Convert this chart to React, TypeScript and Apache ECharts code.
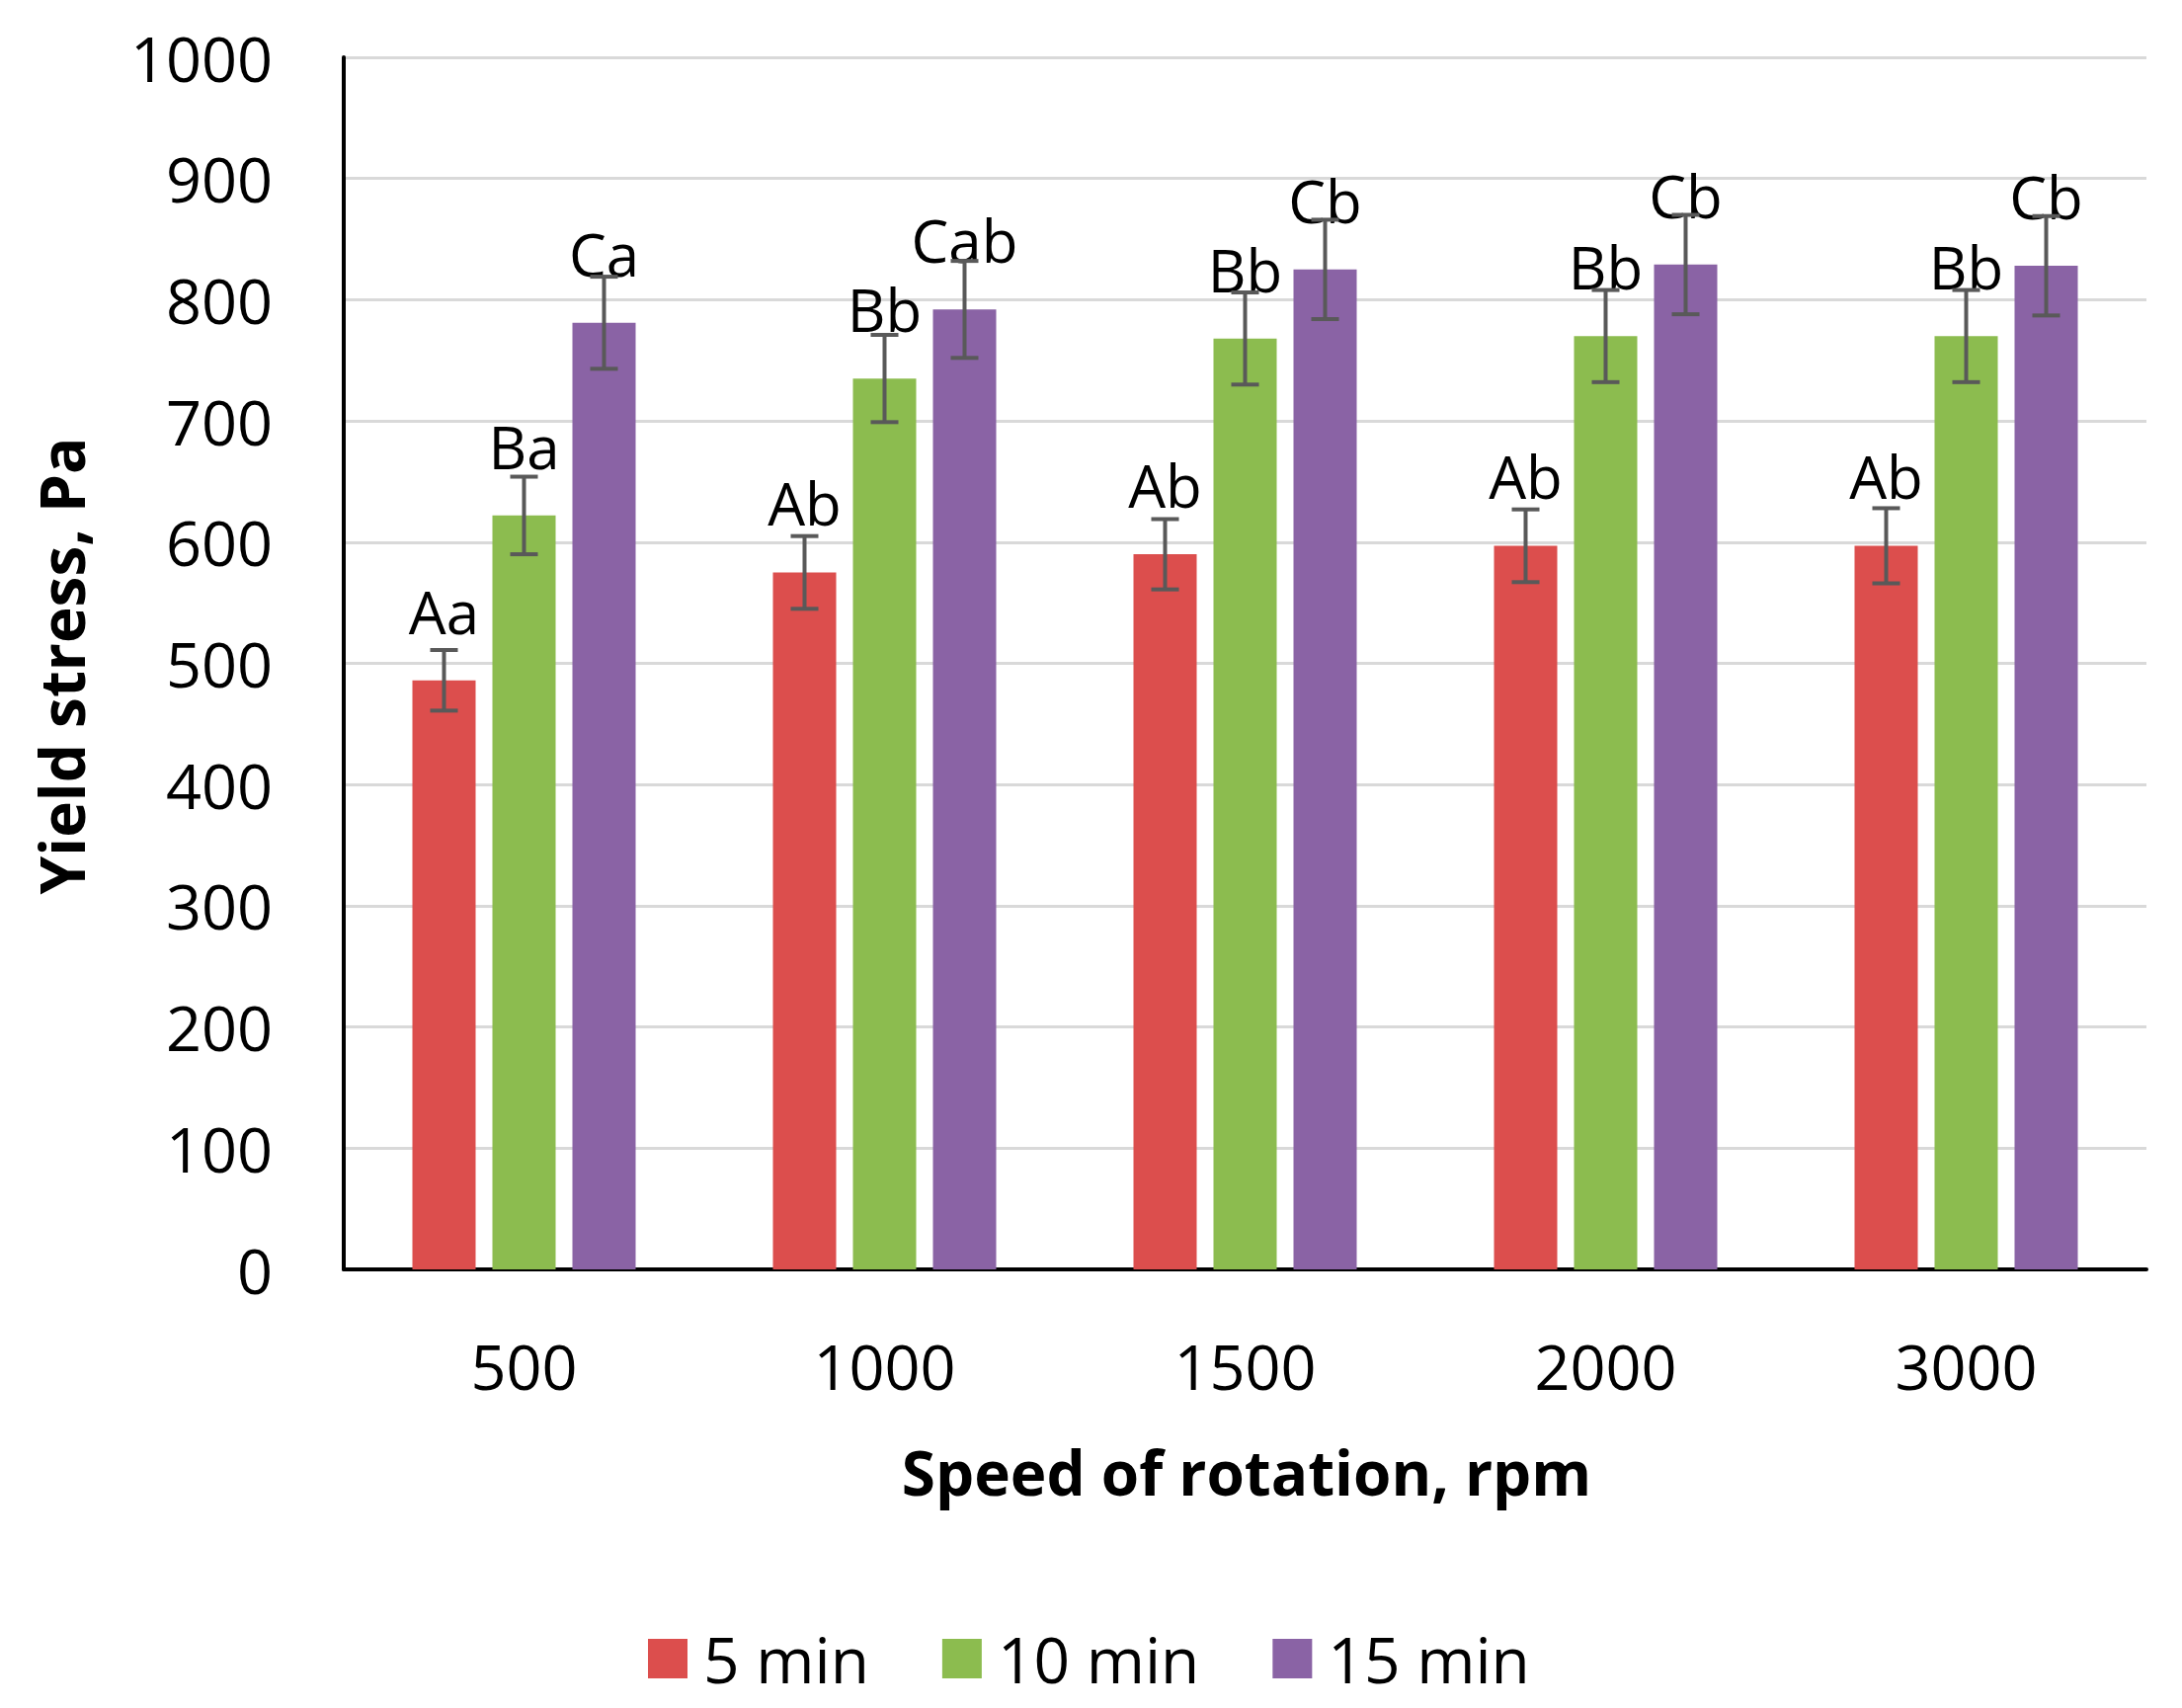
import React, { useEffect, useRef } from "react";
import * as echarts from "echarts";

const categories = ["500", "1000", "1500", "2000", "3000"];
const seriesNames = ["5 min", "10 min", "15 min"];
const values5 = [486, 575, 590, 597, 597];
const values10 = [622, 735, 768, 770, 770];
const values15 = [781, 792, 825, 829, 828];
const errors5 = [25, 30, 29, 30, 31];
const errors10 = [32, 36, 38, 38, 38];
const errors15 = [38, 40, 41, 41, 41];
const labels5 = ["Aa", "Ab", "Ab", "Ab", "Ab"];
const labels10 = ["Ba", "Bb", "Bb", "Bb", "Bb"];
const labels15 = ["Ca", "Cab", "Cb", "Cb", "Cb"];
const yMin = 0;
const yMax = 1000;
const yInterval = 100;
const xTitle = "Speed of rotation, rpm";
const yTitle = "Yield stress, Pa";

const colors = ["#DC4E4D", "#8CBC4F", "#8A63A5"];
const FONT = '"Open Sans", "Noto Sans", sans-serif';
const BAR_W = 64;
const BAR_GAP = 17;

export default function App() {
  const ref = useRef<HTMLDivElement>(null);
  useEffect(() => {
    document.body.style.margin = "0";
    if (!ref.current) return;
    const chart = echarts.init(ref.current, undefined, { renderer: "svg" });
    const allValues = [values5, values10, values15];
    const allErrors = [errors5, errors10, errors15];
    const allLabels = [labels5, labels10, labels15];

    const barSeries = seriesNames.map((name, i) => ({
      name,
      type: "bar",
      data: allValues[i],
      barWidth: BAR_W,
      barGap: (BAR_GAP / BAR_W) * 100 + "%",
      itemStyle: { color: colors[i] },
      z: 2,
      label: {
        show: true,
        position: "top",
        distance: 40,
        formatter: (p: any) => allLabels[i][p.dataIndex],
        fontFamily: FONT,
        fontSize: 60,
        color: "#000",
      },
    }));

    const errSeries = seriesNames.map((name, i) => ({
      name: "err-" + name,
      type: "custom",
      z: 5,
      data: allValues[i].map((v, k) => [k, v, allErrors[i][k]]),
      renderItem: (params: any, api: any) => {
        const x = api.value(0);
        const v = api.value(1);
        const e = api.value(2);
        const top = api.coord([x, v + e]);
        const bot = api.coord([x, v - e]);
        const cx = top[0] + (i - 1) * (BAR_W + BAR_GAP);
        const style = { stroke: "#595959", lineWidth: 4 };
        const cap = 14;
        return {
          type: "group",
          children: [
            { type: "line", shape: { x1: cx, y1: top[1], x2: cx, y2: bot[1] }, style },
            { type: "line", shape: { x1: cx - cap, y1: top[1], x2: cx + cap, y2: top[1] }, style },
            { type: "line", shape: { x1: cx - cap, y1: bot[1], x2: cx + cap, y2: bot[1] }, style },
          ],
        };
      },
    }));

    chart.setOption({
      animation: false,
      backgroundColor: "#fff",
      grid: { left: 348, right: 36, top: 58, bottom: 444, containLabel: false },
      legend: {
        data: seriesNames,
        left: 651,
        top: 1642,
        icon: "rect",
        itemWidth: 40,
        itemHeight: 40,
        itemGap: 74,
        textStyle: { fontFamily: FONT, fontSize: 64, color: "#000", padding: [0, 0, 0, 11] },
      },
      xAxis: {
        type: "category",
        data: categories,
        axisLine: { show: true, lineStyle: { color: "#000", width: 4 } },
        axisTick: { show: false },
        axisLabel: { fontFamily: FONT, fontSize: 63, color: "#000", margin: 66 },
        splitLine: { show: false },
      },
      yAxis: {
        type: "value",
        min: yMin,
        max: yMax,
        interval: yInterval,
        axisLine: { show: true, lineStyle: { color: "#000", width: 4 } },
        axisTick: { show: false },
        axisLabel: {
          fontFamily: FONT,
          fontSize: 63,
          color: "#000",
          margin: 72,
          formatter: (v: number) => String(v),
        },
        splitLine: { show: true, lineStyle: { color: "#d9d9d9", width: 3 } },
      },
      graphic: [
        {
          type: "text",
          x: 62,
          y: 674,
          rotation: Math.PI / 2,
          style: {
            text: yTitle,
            fontFamily: FONT,
            fontSize: 62,
            fontWeight: "bold",
            fill: "#000",
            align: "center",
            verticalAlign: "middle",
          },
        },
        {
          type: "text",
          x: 1262,
          y: 1490,
          style: {
            text: xTitle,
            fontFamily: FONT,
            fontSize: 62,
            fontWeight: "bold",
            fill: "#000",
            align: "center",
            verticalAlign: "middle",
          },
        },
      ],
      series: [...barSeries, ...errSeries],
    });
    return () => chart.dispose();
  }, []);
  return <div ref={ref} style={{ width: 2209, height: 1729 }} />;
}
